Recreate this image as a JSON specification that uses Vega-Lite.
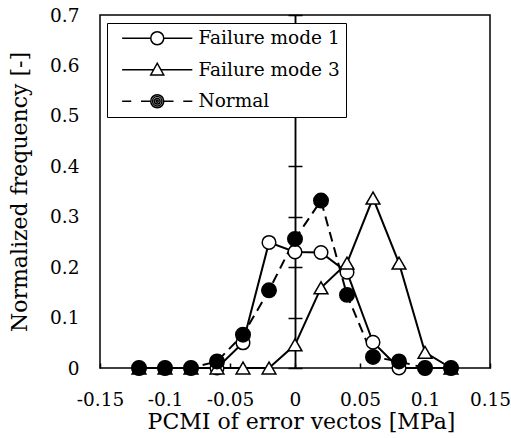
{
  "$schema": "https://vega.github.io/schema/vega-lite/v6.json",
  "width": 390,
  "height": 353,
  "autosize": "none",
  "padding": {"left": 100, "top": 15, "right": 21, "bottom": 70},
  "background": "white",
  "config": {
    "view": {"stroke": "black", "strokeWidth": 1.5},
    "font": "DejaVu Serif",
    "axis": {
      "labelFont": "DejaVu Serif",
      "titleFont": "DejaVu Serif",
      "labelColor": "black",
      "titleColor": "black",
      "labelFontSize": 18.5,
      "titleFontSize": 22,
      "titleFontWeight": "normal",
      "grid": false,
      "domainColor": "black",
      "tickColor": "black",
      "labelFlush": false
    }
  },
  "data": {
    "values": [
      {"x": -0.12, "series": "Failure mode 1", "y": 0},
      {"x": -0.1, "series": "Failure mode 1", "y": 0},
      {"x": -0.08, "series": "Failure mode 1", "y": 0},
      {"x": -0.06, "series": "Failure mode 1", "y": 0},
      {"x": -0.04, "series": "Failure mode 1", "y": 0.05},
      {"x": -0.02, "series": "Failure mode 1", "y": 0.249},
      {"x": 0, "series": "Failure mode 1", "y": 0.23},
      {"x": 0.02, "series": "Failure mode 1", "y": 0.229},
      {"x": 0.04, "series": "Failure mode 1", "y": 0.19},
      {"x": 0.06, "series": "Failure mode 1", "y": 0.051},
      {"x": 0.08, "series": "Failure mode 1", "y": 0},
      {"x": 0.1, "series": "Failure mode 1", "y": 0},
      {"x": 0.12, "series": "Failure mode 1", "y": 0},
      {"x": -0.12, "series": "Failure mode 3", "y": 0},
      {"x": -0.1, "series": "Failure mode 3", "y": 0},
      {"x": -0.08, "series": "Failure mode 3", "y": 0},
      {"x": -0.06, "series": "Failure mode 3", "y": 0},
      {"x": -0.04, "series": "Failure mode 3", "y": 0},
      {"x": -0.02, "series": "Failure mode 3", "y": 0},
      {"x": 0, "series": "Failure mode 3", "y": 0.046},
      {"x": 0.02, "series": "Failure mode 3", "y": 0.159},
      {"x": 0.04, "series": "Failure mode 3", "y": 0.208},
      {"x": 0.06, "series": "Failure mode 3", "y": 0.337},
      {"x": 0.08, "series": "Failure mode 3", "y": 0.208},
      {"x": 0.1, "series": "Failure mode 3", "y": 0.031},
      {"x": 0.12, "series": "Failure mode 3", "y": 0},
      {"x": -0.12, "series": "Normal", "y": 0},
      {"x": -0.1, "series": "Normal", "y": 0},
      {"x": -0.08, "series": "Normal", "y": 0},
      {"x": -0.06, "series": "Normal", "y": 0.013},
      {"x": -0.04, "series": "Normal", "y": 0.066},
      {"x": -0.02, "series": "Normal", "y": 0.154},
      {"x": 0, "series": "Normal", "y": 0.256},
      {"x": 0.02, "series": "Normal", "y": 0.332},
      {"x": 0.04, "series": "Normal", "y": 0.145},
      {"x": 0.06, "series": "Normal", "y": 0.022},
      {"x": 0.08, "series": "Normal", "y": 0.013},
      {"x": 0.1, "series": "Normal", "y": 0},
      {"x": 0.12, "series": "Normal", "y": 0}
    ]
  },
  "encoding": {
    "x": {
      "field": "x",
      "type": "quantitative",
      "scale": {"domain": [-0.15, 0.15], "nice": false, "zero": false},
      "axis": {
        "title": "PCMI of error vectos [MPa]",
        "titleX": 201,
        "values": [-0.15, -0.1, -0.05, 0, 0.05, 0.1, 0.15],
        "labelExpr": "replace(format(datum.value, '~g'), '\u2212', '-')",
        "domain": false,
        "tickSize": -5,
        "tickWidth": 1.5,
        "labelPadding": 27.5,
        "titlePadding": 2
      }
    }
  },
  "layer": [
    {
      "transform": [{"filter": "datum.series != 'Normal'"}],
      "mark": {"type": "line", "color": "black", "strokeWidth": 2},
      "encoding": {
        "detail": {"field": "series"},
        "y": {
          "field": "y",
          "type": "quantitative",
          "scale": {"domain": [0, 0.7], "nice": false},
          "axis": {
            "orient": "left",
            "title": "Normalized frequency [-]",
            "values": [0, 0.1, 0.2, 0.3, 0.4, 0.5, 0.6, 0.7],
            "labelExpr": "format(datum.value, '~g')",
            "ticks": false,
            "domain": false,
            "labelPadding": 21,
            "titlePadding": 18
          }
        }
      }
    },
    {
      "transform": [{"filter": "datum.series == 'Normal'"}],
      "mark": {"type": "line", "color": "black", "strokeWidth": 2, "strokeDash": [10, 6]},
      "encoding": {
        "y": {
          "field": "y",
          "type": "quantitative",
          "scale": {"domain": [0, 0.7], "nice": false},
          "axis": {
            "orient": "right",
            "offset": -195,
            "title": null,
            "labels": false,
            "values": [0, 0.1, 0.2, 0.3, 0.4, 0.5, 0.6, 0.7],
            "ticks": true,
            "tickSize": 7,
            "tickWidth": 1.5,
            "domain": true,
            "domainWidth": 1.5
          }
        }
      }
    },
    {
      "transform": [{"filter": "datum.series == 'Failure mode 1'"}],
      "mark": {"type": "point", "shape": "circle", "filled": true, "fill": "white", "stroke": "black", "strokeWidth": 1.5, "size": 185, "opacity": 1},
      "encoding": {
        "y": {
          "field": "y",
          "type": "quantitative",
          "scale": {"domain": [0, 0.7], "nice": false},
          "axis": {
            "orient": "left",
            "offset": -195,
            "title": null,
            "labels": false,
            "values": [0, 0.1, 0.2, 0.3, 0.4, 0.5, 0.6, 0.7],
            "ticks": true,
            "tickSize": 7,
            "tickWidth": 1.5,
            "domain": true,
            "domainWidth": 1.5
          }
        }
      }
    },
    {
      "transform": [{"filter": "datum.series == 'Failure mode 3'"}],
      "mark": {"type": "point", "shape": "triangle-up", "filled": true, "fill": "white", "stroke": "black", "strokeWidth": 1.5, "size": 190, "opacity": 1},
      "encoding": {
        "y": {"field": "y", "type": "quantitative", "scale": {"domain": [0, 0.7], "nice": false}, "axis": null}
      }
    },
    {
      "transform": [{"filter": "datum.series == 'Normal'"}],
      "mark": {"type": "point", "shape": "circle", "filled": true, "fill": "black", "stroke": "black", "strokeWidth": 1.5, "size": 210, "opacity": 1},
      "encoding": {
        "y": {"field": "y", "type": "quantitative", "scale": {"domain": [0, 0.7], "nice": false}, "axis": null}
      }
    },
    {
      "transform": [{"filter": "false"}],
      "mark": {"type": "point", "filled": true, "fill": "white", "stroke": "black", "strokeWidth": 2, "opacity": 1},
      "encoding": {
        "y": {"field": "y", "type": "quantitative", "scale": {"domain": [0, 0.7], "nice": false}, "axis": null},
        "stroke": {"value": "black"},
        "shape": {
          "field": "series",
          "type": "nominal",
          "scale": {
            "domain": ["Failure mode 1", "Failure mode 3", "Normal"],
            "range": [
              "M-5.4,0H-1M1,0H5.4M1,0A1,1,0,1,1,-1,0A1,1,0,1,1,1,0Z",
              "M-5.4,0H-0.56M0.56,0H5.4M0,-1L1,0.8L-1,0.8Z",
              "M-5.4,0H-4M-2.5,0H-1M1,0H2.5M4,0H5.4M1,0A1,1,0,1,1,-1,0A1,1,0,1,1,1,0ZM0.72,0A0.72,0.72,0,1,1,-0.72,0A0.72,0.72,0,1,1,0.72,0ZM0.44,0A0.44,0.44,0,1,1,-0.44,0A0.44,0.44,0,1,1,0.44,0ZM0.16,0A0.16,0.16,0,1,1,-0.16,0A0.16,0.16,0,1,1,0.16,0Z"
            ]
          },
          "legend": {
            "orient": "none",
            "legendX": 7,
            "legendY": 8,
            "title": null,
            "padding": 6,
            "strokeColor": "black",
            "fillColor": "white",
            "labelFont": "DejaVu Serif",
            "labelFontSize": 18.5,
            "labelColor": "black",
            "symbolSize": 169,
            "symbolOffset": 35,
            "labelOffset": 32,
            "rowPadding": 11.5
          }
        }
      }
    }
  ],
  "resolve": {"axis": {"y": "independent"}}
}
